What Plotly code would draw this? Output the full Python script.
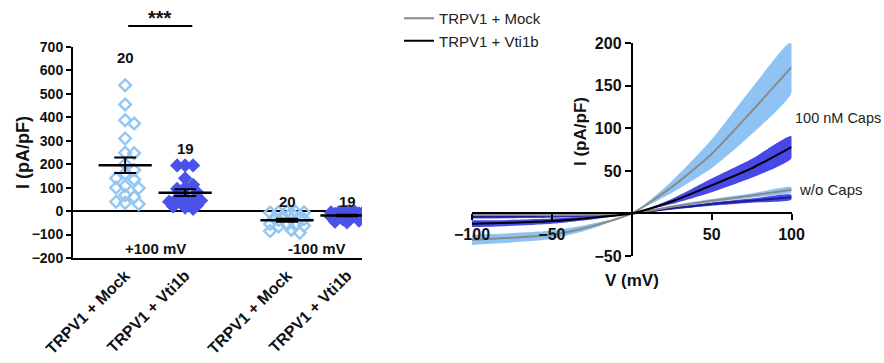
import numpy as np
import plotly.graph_objects as go

W, H = 884, 363

# ---------------- Left panel data (scatter, pA/pF) ----------------
group_labels = ["TRPV1 + Mock", "TRPV1 + Vti1b", "TRPV1 + Mock", "TRPV1 + Vti1b"]
mock_p100 = [537, 455, 388, 374, 310, 249, 247, 200, 175, 160, 140, 135, 107, 100, 98, 68, 60, 40, 35, 30]
vti_p100 = [195, 195, 195, 140, 112, 100, 95, 80, 60, 55, 50, 45, 40, 35, 30, 25, 20, 15, 10]
mock_m100 = [-2, -3, -4, -5, -6, -8, -25, -28, -30, -32, -35, -38, -55, -58, -60, -62, -65, -80, -85, -92]
vti_m100 = [-2, -3, -4, -5, -6, -7, -8, -10, -12, -15, -18, -20, -22, -25, -30, -35, -40, -45, -48]
counts = ["20", "19", "20", "19"]
left_yticks = [-200, -100, 0, 100, 200, 300, 400, 500, 600, 700]

# ---------------- Right panel data (I-V curves) ----------------
V = [-100, -75, -50, -25, 0, 25, 50, 75, 100]
mock_caps_mean = [-31, -28.5, -25, -15, 0, 31, 70, 120, 172]
mock_caps_sem = [6, 5.5, 5, 3, 0, 7, 17, 27, 30]
vti_caps_mean = [-12, -11, -9, -5, 0, 14, 33, 53, 78]
vti_caps_sem = [4, 3.5, 3, 2, 0, 3, 8, 11, 13]
mock_wo_mean = [-1.5, -1.5, -2, -1.5, 0, 8, 15, 21, 28]
mock_wo_sem = [1.5, 1.5, 1.5, 1, 0, 1.5, 2, 2.5, 3]
vti_wo_mean = [-4, -3.5, -3, -2, 0, 6, 11, 15, 19]
vti_wo_sem = [2, 2, 2, 1.5, 0, 1.5, 2, 2.5, 3]
right_xticks = [-100, -50, 50, 100]
right_yticks = [-50, 50, 100, 150, 200]

LIGHT = "#93c6f2"
BLUE = "#4a52ea"
BAND_LIGHT = "#8ec3f3"
BAND_BLUE = "#4848e6"
GREY = "#8a8a8a"
NAVY = "#1e1e8e"
FONT = "Arial, Liberation Sans, sans-serif"

# layout geometry
pos = [0, 1, 2.7, 3.7]
lx_dom = [73 / W, 362 / W]
ly_dom = [(H - 258) / H, (H - 47) / H]
lx_range = [-0.87, 3.95]
ly_range = [-200, 700]
rx_dom = [472 / W, 791.5 / W]
ry_dom = [(H - 256) / H, (H - 43.3) / H]

px_per_x = (lx_dom[1] - lx_dom[0]) * W / (lx_range[1] - lx_range[0])
px_per_y = (ly_dom[1] - ly_dom[0]) * H / (ly_range[1] - ly_range[0])


def swarm(vals, d, maxw):
    """Deterministic beeswarm in pixel space, limited to +/- maxw px."""
    placed = []
    offs = [0.0] * len(vals)
    order = sorted(range(len(vals)), key=lambda i: -vals[i])
    step = d / 2.0
    cands = [0.0]
    k = 1
    while k * step <= maxw:
        cands += [k * step, -k * step]
        k += 1
    for i in order:
        y = vals[i] * px_per_y
        best, best_dist = 0.0, -1.0
        for c in cands:
            md = min([((c - px) ** 2 + (y - py) ** 2) ** 0.5 for px, py in placed] or [1e9])
            if md >= d:
                best = c
                break
            if md > best_dist:
                best, best_dist = c, md
        placed.append((best, y))
        offs[i] = best / px_per_x
    return offs


fig = go.Figure()

groups = [mock_p100, vti_p100, mock_m100, vti_m100]
swarm_par = [(9.0, 14), (8.0, 19), (8.5, 20), (8.0, 17)]
for gi, vals in enumerate(groups):
    d, mw = swarm_par[gi]
    offs = swarm(vals, d, mw)
    if gi % 2 == 0:
        marker = dict(symbol="diamond-open", size=9, color=LIGHT, line=dict(width=2.4, color=LIGHT))
    else:
        marker = dict(symbol="diamond", size=11, color=BLUE, line=dict(width=0))
    xs = [pos[gi] + o for o in offs]
    fig.add_trace(go.Scatter(x=xs, y=vals, mode="markers", marker=marker,
                             showlegend=False, xaxis="x", yaxis="y", hoverinfo="y"))

for gi, vals in enumerate(groups):
    arr = np.array(vals, dtype=float)
    m = arr.mean()
    sem = arr.std(ddof=1) / np.sqrt(len(arr))
    fig.add_trace(go.Scatter(x=[pos[gi]], y=[m], mode="markers",
                             marker=dict(symbol="line-ew", size=38, color="black",
                                         line=dict(width=2.5, color="black")),
                             error_y=dict(type="data", array=[sem], visible=True,
                                          color="black", thickness=2, width=11),
                             showlegend=False, xaxis="x", yaxis="y", hoverinfo="y"))


def band(mean, sem, color):
    up = [m + s for m, s in zip(mean, sem)]
    lo = [m - s for m, s in zip(mean, sem)]
    fig.add_trace(go.Scatter(x=V + V[::-1], y=up + lo[::-1], mode="lines", fill="toself",
                             fillcolor=color, line=dict(width=0, color=color, shape="spline", smoothing=0.6),
                             showlegend=False, xaxis="x2", yaxis="y2", hoverinfo="skip"))


band(vti_wo_mean, vti_wo_sem, BAND_BLUE)
band(mock_wo_mean, mock_wo_sem, BAND_LIGHT)
band(vti_caps_mean, vti_caps_sem, BAND_BLUE)
band(mock_caps_mean, mock_caps_sem, BAND_LIGHT)

fig.add_trace(go.Scatter(x=V, y=vti_wo_mean, mode="lines",
                         line=dict(color=NAVY, width=2, shape="spline", smoothing=0.6),
                         showlegend=False, xaxis="x2", yaxis="y2"))
fig.add_trace(go.Scatter(x=V, y=mock_wo_mean, mode="lines",
                         line=dict(color=GREY, width=2, shape="spline", smoothing=0.6),
                         showlegend=False, xaxis="x2", yaxis="y2"))
fig.add_trace(go.Scatter(x=V, y=mock_caps_mean, mode="lines", name="TRPV1 + Mock",
                         line=dict(color=GREY, width=2, shape="spline", smoothing=0.6),
                         showlegend=True, xaxis="x2", yaxis="y2"))
fig.add_trace(go.Scatter(x=V, y=vti_caps_mean, mode="lines", name="TRPV1 + Vti1b",
                         line=dict(color="black", width=2, shape="spline", smoothing=0.6),
                         showlegend=True, xaxis="x2", yaxis="y2"))

rx_zero = rx_dom[0] + (0 - (-100)) / 200 * (rx_dom[1] - rx_dom[0])
ry_zero = ry_dom[0] + (0 - (-50)) / 250 * (ry_dom[1] - ry_dom[0])

bold = dict(family=FONT, color="#111", weight="bold")

fig.update_layout(
    width=W, height=H, margin=dict(l=0, r=0, t=0, b=0),
    paper_bgcolor="white", plot_bgcolor="rgba(0,0,0,0)",
    font=dict(family=FONT, color="#111"),
    xaxis=dict(domain=lx_dom, range=lx_range, anchor="y", tickvals=pos, ticktext=group_labels,
               tickangle=-45, ticks="", showline=True, linecolor="black", linewidth=2,
               showgrid=False, zeroline=False, tickfont=dict(size=16, **bold), automargin=False),
    yaxis=dict(domain=ly_dom, range=ly_range, anchor="x", tickvals=left_yticks, ticks="outside",
               ticklen=5, tickwidth=2, tickcolor="black", showline=True, linecolor="black",
               linewidth=2, showgrid=False, zeroline=True, zerolinecolor="black", zerolinewidth=2,
               tickfont=dict(size=14, **bold), automargin=False),
    xaxis2=dict(domain=rx_dom, range=[-100, 100], anchor="free", position=ry_zero,
                tickvals=right_xticks, ticks="outside", ticklen=6, tickwidth=2, tickcolor="black",
                showline=True, linecolor="black", linewidth=2, showgrid=False, zeroline=False,
                tickfont=dict(size=16, **bold), automargin=False),
    yaxis2=dict(domain=ry_dom, range=[-50, 200], anchor="free", position=rx_zero,
                tickvals=right_yticks, ticks="outside", ticklen=6, tickwidth=2, tickcolor="black",
                showline=True, linecolor="black", linewidth=2, showgrid=False, zeroline=False,
                tickfont=dict(size=16, **bold), automargin=False),
    legend=dict(x=399 / W, y=1.0 - 2 / H, xanchor="left", yanchor="top",
                font=dict(size=15, family=FONT, color="#222"),
                bgcolor="rgba(0,0,0,0)", itemwidth=30, tracegroupgap=0),
    showlegend=True,
)

ann = []
for gi in range(4):
    ytxt = [657, 269, 42, 42][gi]
    ann.append(dict(x=pos[gi], y=ytxt, xref="x", yref="y", text=counts[gi], showarrow=False,
                    xanchor="center", yanchor="middle", font=dict(size=15, **bold)))
ann.append(dict(x=0.5, y=-158, xref="x", yref="y", text="+100 mV", showarrow=False,
                xanchor="center", yanchor="middle", font=dict(size=15, **bold)))
ann.append(dict(x=3.2, y=-158, xref="x", yref="y", text="-100 mV", showarrow=False,
                xanchor="center", yanchor="middle", font=dict(size=15, **bold)))
ann.append(dict(x=0.58, y=(H - 18) / H, xref="x", yref="paper", text="***", showarrow=False,
                xanchor="center", yanchor="middle", font=dict(size=20, **bold)))
ann.append(dict(x=23 / W, y=(H - 153) / H, xref="paper", yref="paper", text="I (pA/pF)", textangle=-90,
                xanchor="center", yanchor="middle", showarrow=False, font=dict(size=18, **bold)))
ann.append(dict(x=580 / W, y=(H - 132) / H, xref="paper", yref="paper", text="I (pA/pF)", textangle=-90,
                xanchor="center", yanchor="middle", showarrow=False, font=dict(size=17, **bold)))
ann.append(dict(x=632 / W, y=(H - 280) / H, xref="paper", yref="paper", text="V (mV)",
                xanchor="center", yanchor="middle", showarrow=False, font=dict(size=17, **bold)))
ann.append(dict(x=793 / W, y=(H - 118) / H, xref="paper", yref="paper", text="100 nM Caps", xanchor="left",
                yanchor="middle", showarrow=False, font=dict(size=14.5, family=FONT, color="#222")))
ann.append(dict(x=797 / W, y=(H - 190) / H, xref="paper", yref="paper", text="w/o Caps", xanchor="left",
                yanchor="middle", showarrow=False, font=dict(size=15, family=FONT, color="#222")))
fig.update_layout(annotations=ann)

fig.add_shape(type="line", xref="x", yref="paper", x0=0.05, x1=1.12, y0=(H - 26) / H, y1=(H - 26) / H,
              line=dict(color="black", width=2))

fig.write_html("out.html", config={"displayModeBar": False},
               post_script="document.body.style.margin='0';document.body.style.overflow='hidden';")
